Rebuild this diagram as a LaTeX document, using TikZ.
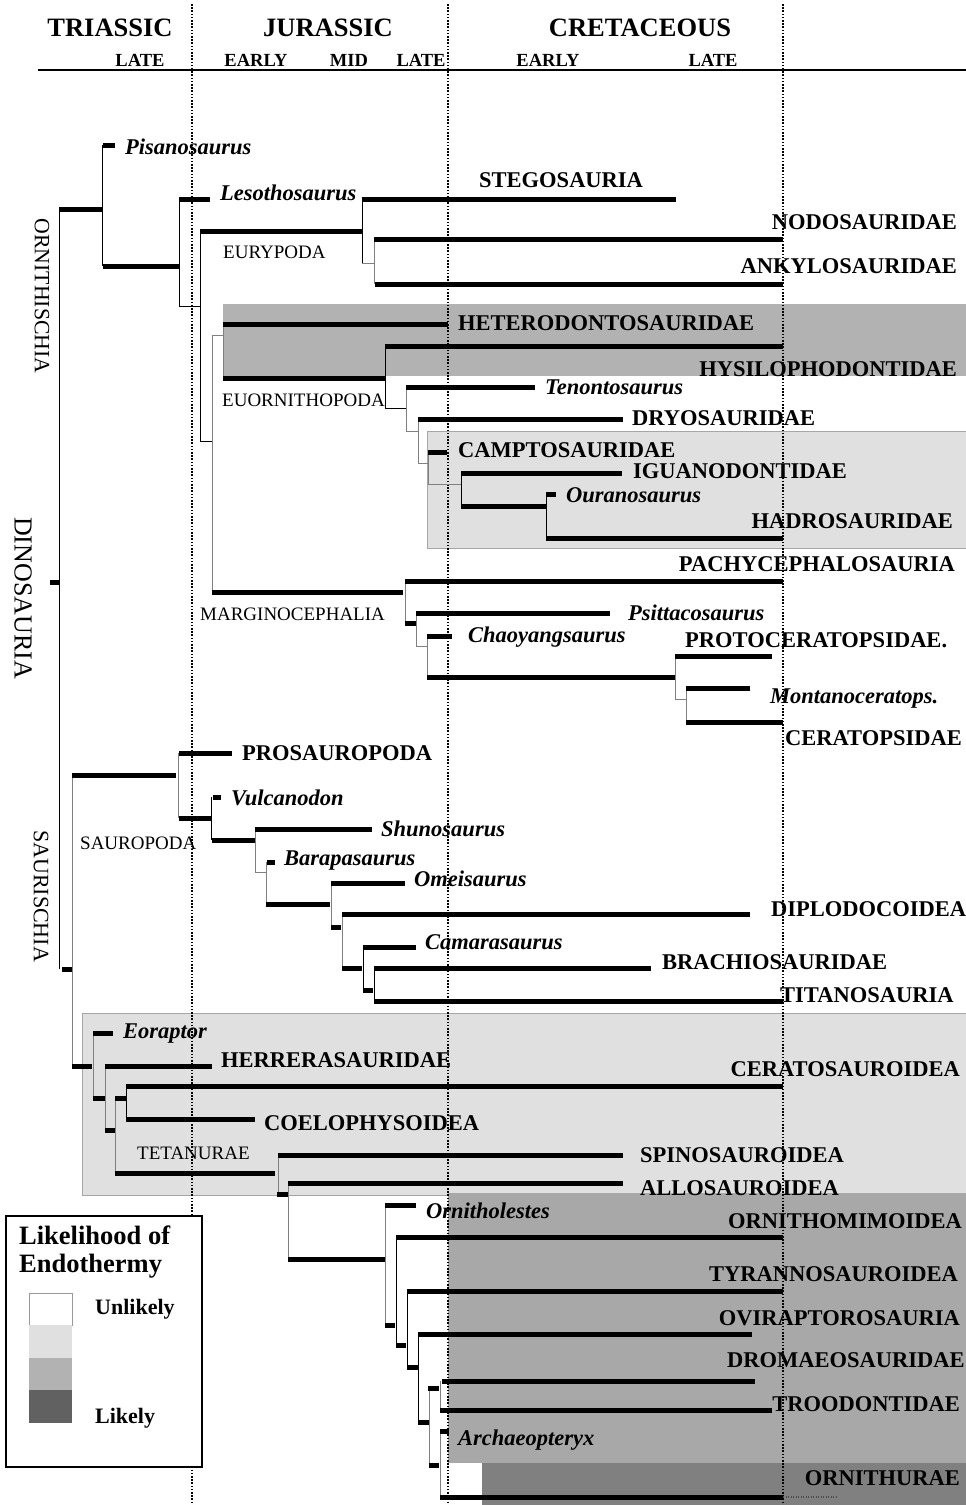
\documentclass[tikz,border=0pt]{standalone}
\usepackage{fontspec}
\setmainfont{Liberation Serif}
\begin{document}
\begin{tikzpicture}[x=1pt,y=-1pt]
\tikzset{
  bar/.style={line width=5pt, line cap=butt, black},
  conn/.style={line width=1pt, black},
  connl/.style={line width=0.9pt, black!50},
  vdot/.style={line width=1.8pt, dash pattern=on 1.6pt off 1.6pt, black},
  lab/.style={font=\fontsize{22.5}{24}\selectfont\bfseries, inner sep=0pt, text height=14.9pt, text depth=0pt},
  ital/.style={font=\fontsize{22.5}{24}\selectfont\bfseries\itshape, inner sep=0pt, text height=14.9pt, text depth=0pt},
  reg/.style={font=\fontsize{19}{21}\selectfont, inner sep=0pt, text height=12.5pt, text depth=0pt},
  period/.style={font=\fontsize{26.5}{28}\selectfont\bfseries, inner sep=0pt, text height=17.5pt, text depth=0pt},
  epoch/.style={font=\fontsize{18.5}{20}\selectfont\bfseries, inner sep=0pt, text height=12.2pt, text depth=0pt},
  clade/.style={inner sep=0pt, rotate=-90},
  legt/.style={font=\fontsize{26.5}{28}\selectfont\bfseries, inner sep=0pt, text height=17.5pt, text depth=0pt},
  legi/.style={font=\fontsize{22}{24}\selectfont\bfseries, inner sep=0pt, text height=14.5pt, text depth=0pt},
}
\useasboundingbox (0,0) rectangle (966,1505);
\fill[white] (0,0) rectangle (966,1505);

% shaded boxes
\fill[black!30] (223,304) rectangle (966,376);
\filldraw[fill=black!12, draw=black!35, line width=0.5pt] (427,431) rectangle (966,548);
\filldraw[fill=black!12, draw=black!35, line width=0.5pt] (82,1013) rectangle (966,1195);
\fill[black!34] (448,1193) rectangle (966,1463);
\fill[black!50] (482,1463) rectangle (966,1505);

% header
\draw[line width=2pt] (38,70) -- (966,70);
\node[period] (tri) at (110,28) {TRIASSIC};
\node[period] (jur) at (328,28) {JURASSIC};
\node[period] (cre) at (640,28) {CRETACEOUS};
\node[epoch] (tl) at (140,60) {LATE};
\node[epoch] (je) at (256,60) {EARLY};
\node[epoch] (jm) at (349,60) {MID};
\node[epoch] (jl) at (421,60) {LATE};
\node[epoch] (ce) at (548,60) {EARLY};
\node[epoch] (cl) at (713,60) {LATE};

% period boundaries
\foreach \x in {192,448,783} \draw[vdot] (\x,4) -- (\x,1505);

% thin connectors (vertical)
\foreach \x/\ya/\yb in {59/209/969, 102/145/266, 179/199/306, 200/231/441, 362/199/263,
  385/346/408, 461/473/506, 546/494/538, 211/797/840, 363/947/990, 374/968/1001,
  126/1086/1119, 396/1237/1345, 407/1291/1367, 418/1334/1422}
  \draw[conn] (\x,\ya) -- (\x,\yb);
\foreach \x/\ya/\yb in {212/335/592, 223/324/378, 374/239/284, 406/387/431, 418/419/463,
  428/452/484, 405/581/623, 416/613/646, 427/636/677, 675/656/699, 686/688/722,
  72/775/1066, 178/753/818, 255/829/872, 266/862/904, 331/883/927, 342/914/968,
  93/1033/1098, 105/1066/1130, 115/1098/1173, 278/1155/1194, 288/1183/1259,
  385/1205/1325, 429/1388/1465, 440/1381/1410, 440/1431/1497}
  \draw[connl] (\x,\ya) -- (\x,\yb);
% thin connectors (horizontal)
\foreach \xa/\xb/\y in {179/200/306, 200/212/441, 385/406/408}
  \draw[conn] (\xa,\y) -- (\xb,\y);
\foreach \xa/\xb/\y in {212/223/335, 362/374/263, 406/418/431, 418/428/463, 428/461/484,
  416/427/646, 675/686/699, 255/266/872}
  \draw[connl] (\xa,\y) -- (\xb,\y);

% thick bars
\foreach \xa/\xb/\y in {59/102/209, 103/115/145, 103/180/266, 179/210/199, 200/362/231,
  362/676/199, 374/783/239, 375/783/284, 223/448/324, 385/783/346, 223/385/378,
  406/535/387, 418/623/419, 428/447/452, 461/622/473, 461/546/506, 546/556/494,
  546/783/538, 212/403/592, 405/783/581, 405/416/623, 416/610/613, 427/452/636,
  427/675/677, 675/772/656, 686/750/688, 686/783/722,
  50/60/582, 62/72/969,
  72/176/775, 179/232/753, 179/211/818, 213/221/797, 212/255/840, 255/372/829,
  267/275/862, 266/330/904, 331/405/883, 331/341/927, 342/750/914, 342/362/968,
  363/416/947, 363/373/990, 374/651/968, 374/783/1001,
  72/92/1066, 93/113/1033, 93/105/1098, 105/212/1066, 105/115/1130, 115/126/1098,
  126/783/1086, 126/255/1119, 115/275/1173, 278/623/1155, 277/288/1194, 288/623/1183,
  288/385/1259, 385/416/1205, 385/395/1325, 396/783/1237, 396/406/1345, 407/783/1291,
  407/418/1367, 418/752/1334, 418/429/1422, 428/439/1388, 442/755/1381, 440/772/1410,
  429/439/1465, 440/449/1431, 440/783/1497}
  \draw[bar] (\xa,\y) -- (\xb,\y);
\draw[line width=2pt, dash pattern=on 1pt off 1.5pt, black!70] (783,1497) -- (838,1497);

% clade labels (rotated)
\node[clade, font=\fontsize{21.8}{23}\selectfont] (orn) at (42,296) {ORNITHISCHIA};
\node[clade, font=\fontsize{26}{28}\selectfont] (dino) at (23,598) {DINOSAURIA};
\node[clade, font=\fontsize{22}{24}\selectfont] (saur) at (41,896) {SAURISCHIA};

% regular labels
\node[reg, anchor=west] (eury) at (223,252) {EURYPODA};
\node[reg, anchor=west] (euor) at (222,400) {EUORNITHOPODA};
\node[reg, anchor=west] (marg) at (200,614) {MARGINOCEPHALIA};
\node[reg, anchor=west] (saup) at (80,843) {SAUROPODA};
\node[reg, anchor=west] (teta) at (137,1153) {TETANURAE};

% bold taxa
\node[lab, anchor=west] (stego) at (479,180) {STEGOSAURIA};
\node[lab, anchor=east] (nodo) at (957,222) {NODOSAURIDAE};
\node[lab, anchor=east] (anky) at (957,266) {ANKYLOSAURIDAE};
\node[lab, anchor=west] (hete) at (458,323) {HETERODONTOSAURIDAE};
\node[lab, anchor=east] (hyps) at (957,369) {HYSILOPHODONTIDAE};
\node[lab, anchor=west] (dryo) at (632,418) {DRYOSAURIDAE};
\node[lab, anchor=west] (camp) at (458,450) {CAMPTOSAURIDAE};
\node[lab, anchor=west] (igua) at (633,471) {IGUANODONTIDAE};
\node[lab, anchor=east] (hadr) at (953,521) {HADROSAURIDAE};
\node[lab, anchor=east] (pach) at (955,564) {PACHYCEPHALOSAURIA};
\node[lab, anchor=west] (prot) at (685,640) {PROTOCERATOPSIDAE.};
\node[lab, anchor=east] (cera) at (962,738) {CERATOPSIDAE};
\node[lab, anchor=west] (pros) at (242,753) {PROSAUROPODA};
\node[lab, anchor=west] (dipl) at (771,909) {DIPLODOCOIDEA};
\node[lab, anchor=west] (brac) at (662,962) {BRACHIOSAURIDAE};
\node[lab, anchor=west] (tita) at (780,995) {TITANOSAURIA};
\node[lab, anchor=west] (herr) at (221,1060) {HERRERASAURIDAE};
\node[lab, anchor=east] (ctsr) at (960,1069) {CERATOSAUROIDEA};
\node[lab, anchor=west] (coel) at (264,1123) {COELOPHYSOIDEA};
\node[lab, anchor=west] (spin) at (640,1155) {SPINOSAUROIDEA};
\node[lab, anchor=west] (allo) at (640,1188) {ALLOSAUROIDEA};
\node[lab, anchor=east] (ormi) at (962,1221) {ORNITHOMIMOIDEA};
\node[lab, anchor=east] (tyra) at (958,1274) {TYRANNOSAUROIDEA};
\node[lab, anchor=east] (ovir) at (960,1318) {OVIRAPTOROSAURIA};
\node[lab, anchor=west] (drom) at (727,1360) {DROMAEOSAURIDAE};
\node[lab, anchor=east] (troo) at (960,1404) {TROODONTIDAE};
\node[lab, anchor=east] (orth) at (960,1478) {ORNITHURAE};

% italic taxa
\node[ital, anchor=west] (pisa) at (125,147) {Pisanosaurus};
\node[ital, anchor=west] (leso) at (220,193) {Lesothosaurus};
\node[ital, anchor=west] (teno) at (545,387) {Tenontosaurus};
\node[ital, anchor=west] (oura) at (566,495) {Ouranosaurus};
\node[ital, anchor=west] (psit) at (628,613) {Psittacosaurus};
\node[ital, anchor=west] (chao) at (468,635) {Chaoyangsaurus};
\node[ital, anchor=west] (mont) at (770,696) {Montanoceratops.};
\node[ital, anchor=west] (vulc) at (231,798) {Vulcanodon};
\node[ital, anchor=west] (shun) at (381,829) {Shunosaurus};
\node[ital, anchor=west] (bara) at (284,858) {Barapasaurus};
\node[ital, anchor=west] (omei) at (414,879) {Omeisaurus};
\node[ital, anchor=west] (cama) at (425,942) {Camarasaurus};
\node[ital, anchor=west] (eora) at (123,1031) {Eoraptor};
\node[ital, anchor=west] (ornl) at (426,1211) {Ornitholestes};
\node[ital, anchor=west] (arch) at (458,1438) {Archaeopteryx};

% legend
\draw[line width=2pt, fill=white] (6,1216) rectangle (202,1467);
\node[legt, anchor=west] (lt1) at (19,1236) {Likelihood of};
\node[legt, anchor=west] (lt2) at (19,1264) {Endothermy};
\draw[black!40, line width=0.5pt] (29,1293) rectangle (72,1325);
\fill[black!12] (29,1325) rectangle (72,1358);
\fill[black!30] (29,1358) rectangle (72,1390);
\fill[black!62] (29,1390) rectangle (72,1423);
\node[legi, anchor=west] (unl) at (95,1307) {Unlikely};
\node[legi, anchor=west] (lik) at (95,1416) {Likely};
\end{tikzpicture}
\end{document}
